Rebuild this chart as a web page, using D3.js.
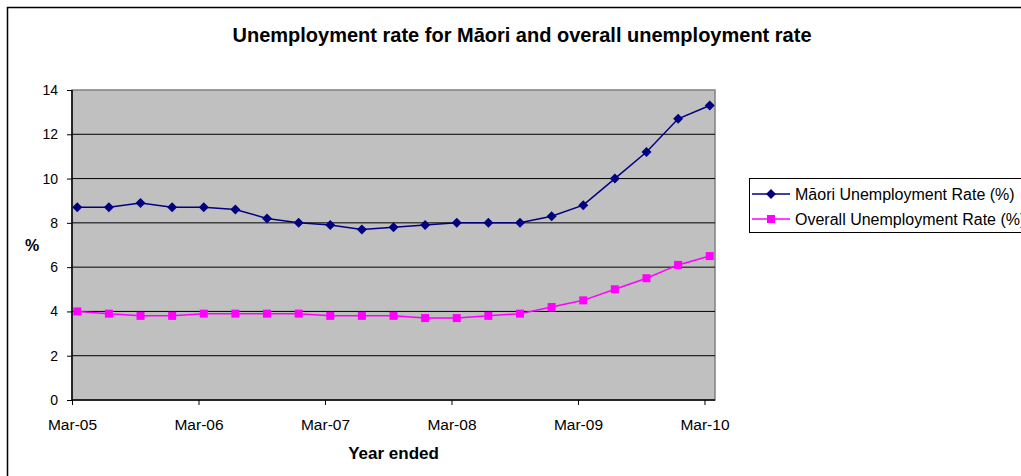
<!DOCTYPE html>
<html>
<head>
<meta charset="utf-8">
<script src="https://cdn.jsdelivr.net/npm/d3@7"></script>
<style>
  body { margin: 0; background: #fff; }
  svg text { font-family: "Liberation Sans", Arial, sans-serif; fill: #000; }
  .axis path { display: none; }
  .axis line { stroke: #000; }
</style>
</head>
<body>
<svg width="1021" height="476"></svg>
<script>
// quarterly data, year ended
var quarters = ["Mar-05","Jun-05","Sep-05","Dec-05","Mar-06","Jun-06","Sep-06","Dec-06",
                "Mar-07","Jun-07","Sep-07","Dec-07","Mar-08","Jun-08","Sep-08","Dec-08",
                "Mar-09","Jun-09","Sep-09","Dec-09","Mar-10"];
var maori   = [8.7, 8.7, 8.9, 8.7, 8.7, 8.6, 8.2, 8.0, 7.9, 7.7, 7.8,
               7.9, 8.0, 8.0, 8.0, 8.3, 8.8, 10.0, 11.2, 12.7, 13.3];
var overall = [4.0, 3.9, 3.8, 3.8, 3.9, 3.9, 3.9, 3.9, 3.8, 3.8, 3.8,
               3.7, 3.7, 3.8, 3.9, 4.2, 4.5, 5.0, 5.5, 6.1, 6.5];
var yearLabels = ["Mar-05","Mar-06","Mar-07","Mar-08","Mar-09","Mar-10"];
var yTicks = [0, 2, 4, 6, 8, 10, 12, 14];
var seriesNames = ["Māori Unemployment Rate (%)", "Overall Unemployment Rate (%)"];

var svg = d3.select("svg");
var margin = { left: 72, right: 306, top: 90, bottom: 76 };
var width = 1021, height = 476;

// month slots from Mar-05 to Mar-10 (61 months), points in the middle of a slot
var x = d3.scaleLinear().domain([0, 61]).range([margin.left, width - margin.right]);
var y = d3.scaleLinear().domain([0, 14]).range([height - margin.bottom, margin.top]);
var px = function(d, i) { return x(i * 3 + 0.5); };

// outer chart border
svg.append("rect")
    .attr("x", 7.5).attr("y", 7.5)
    .attr("width", 1100).attr("height", 600)
    .attr("fill", "none").attr("stroke", "#000").attr("stroke-width", 1.5);

// plot area
svg.append("rect")
    .attr("x", x(0)).attr("y", y(14))
    .attr("width", x(61) - x(0)).attr("height", y(0) - y(14))
    .attr("fill", "#c0c0c0").attr("stroke", "#808080").attr("stroke-width", 1.5);

// gridlines
svg.append("g").selectAll("line")
    .data(yTicks.filter(function(d) { return d > 0 && d < 14; }))
    .enter().append("line")
    .attr("x1", x(0)).attr("x2", x(61))
    .attr("y1", function(d) { return y(d); }).attr("y2", function(d) { return y(d); })
    .attr("stroke", "#000").attr("stroke-width", 1);

// axes
svg.append("g").attr("class", "axis")
    .attr("transform", "translate(" + x(0) + ",0)")
    .call(d3.axisLeft(y).tickValues(yTicks).tickSize(5).tickPadding(9))
    .selectAll("text").style("font-size", "14px");
svg.append("g").attr("class", "axis")
    .attr("transform", "translate(0," + y(0) + ")")
    .call(d3.axisBottom(x).tickValues([0, 12, 24, 36, 48, 60]).tickSize(5).tickPadding(14)
        .tickFormat(function(d, i) { return yearLabels[i]; }))
    .selectAll("text").style("font-size", "15.5px");

svg.append("line")
    .attr("x1", x(0)).attr("x2", x(0)).attr("y1", y(14)).attr("y2", y(0))
    .attr("stroke", "#000").attr("stroke-width", 1.5);
svg.append("line")
    .attr("x1", x(0)).attr("x2", x(61)).attr("y1", y(0)).attr("y2", y(0))
    .attr("stroke", "#000").attr("stroke-width", 1.5);

// titles
svg.append("text")
    .attr("x", 522).attr("y", 42)
    .attr("text-anchor", "middle")
    .style("font-size", "20px").style("font-weight", "bold")
    .text("Unemployment rate for Māori and overall unemployment rate");
svg.append("text")
    .attr("x", (x(0) + x(61)) / 2).attr("y", 459)
    .attr("text-anchor", "middle")
    .style("font-size", "17px").style("font-weight", "bold")
    .text("Year ended");
svg.append("text")
    .attr("x", 32).attr("y", 251)
    .attr("text-anchor", "middle")
    .style("font-size", "16px").style("font-weight", "bold")
    .text("%");

// series
var diamond = "M0,-5L5,0L0,5L-5,0Z";
var square = "M-4,-4L4,-4L4,4L-4,4Z";
var line = d3.line().x(px).y(function(d) { return y(d); });

var drawSeries = function(data, color, shape) {
    svg.append("path").datum(data)
        .attr("d", line)
        .attr("fill", "none").attr("stroke", color).attr("stroke-width", 1.5);
    svg.append("g").selectAll("path")
        .data(data).enter().append("path")
        .attr("d", shape)
        .attr("transform", function(d, i) { return "translate(" + px(d, i) + "," + y(d) + ")"; })
        .attr("fill", color);
};
drawSeries(overall, "#ff00ff", square);
drawSeries(maori, "#000080", diamond);

// legend (runs past the right edge, as in the original)
var legend = svg.append("g");
legend.append("rect")
    .attr("x", 749.5).attr("y", 178.5).attr("width", 300).attr("height", 54)
    .attr("fill", "#fff").attr("stroke", "#000").attr("stroke-width", 1);
var legendItems = [
    { name: seriesNames[0], color: "#000080", shape: diamond, y: 194 },
    { name: seriesNames[1], color: "#ff00ff", shape: square, y: 219 }
];
legendItems.forEach(function(it) {
    legend.append("line")
        .attr("x1", 752).attr("x2", 790).attr("y1", it.y).attr("y2", it.y)
        .attr("stroke", it.color).attr("stroke-width", 1.5);
    legend.append("path")
        .attr("d", it.shape)
        .attr("transform", "translate(771," + it.y + ")")
        .attr("fill", it.color);
    legend.append("text")
        .attr("x", 795).attr("y", it.y + 6)
        .style("font-size", "16px")
        .text(it.name);
});
</script>
</body>
</html>
